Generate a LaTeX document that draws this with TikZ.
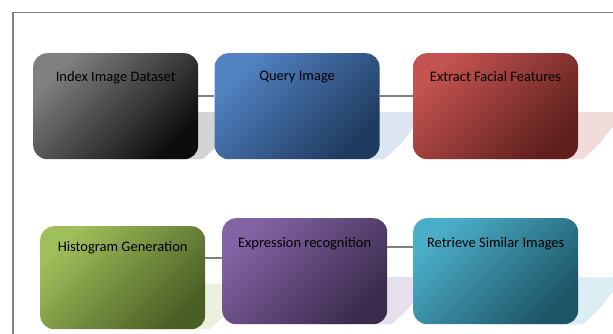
\documentclass[tikz,border=0pt]{standalone}
\usepackage{fontspec}
\setmainfont{Carlito}
\usetikzlibrary{positioning,calc,backgrounds}

\definecolor{idxA}{HTML}{808080}  \definecolor{idxB}{HTML}{0D0D0D}  \definecolor{idxS}{HTML}{D4D4D4}
\definecolor{qryA}{HTML}{5283C4}  \definecolor{qryB}{HTML}{1F3A5F}  \definecolor{qryS}{HTML}{DCE6F2}
\definecolor{extA}{HTML}{C55350}  \definecolor{extB}{HTML}{5E1F1D}  \definecolor{extS}{HTML}{F2DCDB}
\definecolor{hstA}{HTML}{9EBF5A}  \definecolor{hstB}{HTML}{4A5E24}  \definecolor{hstS}{HTML}{EBF1DE}
\definecolor{expA}{HTML}{8463A4}  \definecolor{expB}{HTML}{3B2C4E}  \definecolor{expS}{HTML}{E6E0EC}
\definecolor{retA}{HTML}{4BAEC8}  \definecolor{retB}{HTML}{1E5566}  \definecolor{retS}{HTML}{DBEEF3}

\begin{document}
\begin{tikzpicture}[x=1pt, y=-1pt,
box/.style={rounded corners=14pt, minimum width=165pt, minimum height=106pt, inner sep=0pt,
            anchor=north west, top color=#1A, bottom color=#1B, shading angle=45},
title/.style={anchor=north, yshift=-15pt, font=\fontsize{14.5}{16}\selectfont, text=black},
link/.style={draw=black!50, line width=1.8pt}
]
\useasboundingbox (0,0) rectangle (613,334);
%Frame
\draw[black!50, line width=1.3pt] (13,334) -- (13,12.5) -- (613,12.5);
%Nodes
\node[box=idx, label={[title]north:Index Image Dataset}]      (idx)   at (33,53)   {};
\node[box=qry, label={[title]north:Query Image}]              (qry)   [right=16pt of idx]  {};
\node[box=ext, label={[title]north:Extract Facial Features}]  (ext)   [right=33pt of qry]  {};
\node[box=hst, minimum height=103pt, label={[title,yshift=3pt]north:Histogram Generation}] (hst) at (40,226) {};
\node[box=exp, label={[title,yshift=-1pt]north:Expression recognition}]   (exp)   at (222,218) {};
\node[box=ret, label={[title,yshift=-1pt]north:Retrieve Similar Images}]  (ret)   at (413,218) {};
%Backdrops
\begin{scope}[on background layer]
\foreach \b in {idx,qry,ext,hst,exp,ret}
  \fill[\b S] ($(\b.center)+(0,6)$) -- ($(\b.east)+(44,6)$) -- ($(\b.south east)+(44,-32)$)
     -- ($(\b.south east)+(34,-32)$) .. controls ($(\b.south east)+(20,-14)$) .. ($(\b.south east)+(4,0)$)
     -- (\b.south) -- cycle;
\end{scope}
%Lines
\draw[link] ([yshift=10pt]idx.east) -- ([yshift=10pt]qry.west);
\draw[link] ([yshift=10pt]qry.east) -- ([yshift=10pt]ext.west);
\draw[link] ([yshift=19.5pt]hst.east) -- ([yshift=13pt]exp.west);
\draw[link] ([yshift=24pt]exp.east) -- ([yshift=24pt]ret.west);
\end{tikzpicture}
\end{document}
